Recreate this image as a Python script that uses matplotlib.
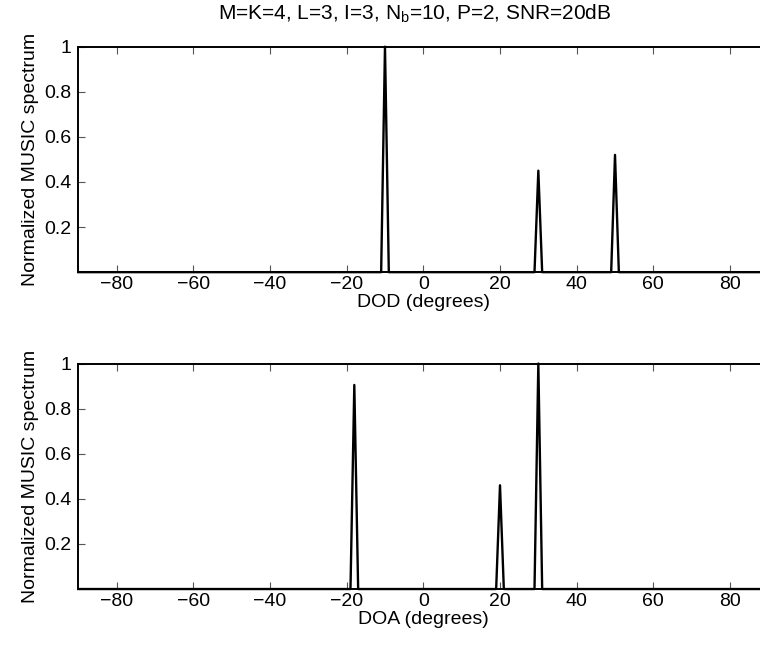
import matplotlib.pyplot as plt

plt.rcParams['font.family'] = ['Liberation Sans', 'DejaVu Sans']

# DOD spectrum samples (degrees, normalized value)
dod_angles = [-90, -11, -10, -9, 29, 30, 31, 49, 50, 51, 90]
dod_values = [0, 0, 1.0, 0, 0, 0.45, 0, 0, 0.52, 0, 0]

# DOA spectrum samples
doa_angles = [-90, -19, -18, -17, 19, 20, 21, 29, 30, 31, 90]
doa_values = [0, 0, 0.905, 0, 0, 0.46, 0, 0, 1.0, 0, 0]

xticks = [-80, -60, -40, -20, 0, 20, 40, 60, 80]
yticks = [0.2, 0.4, 0.6, 0.8, 1]
ytick_labels = ['0.2', '0.4', '0.6', '0.8', '1']

fig = plt.figure(figsize=(7.6, 6.48), dpi=100)
ax1 = fig.add_axes([0.103, 0.580, 0.908, 0.348])
ax2 = fig.add_axes([0.103, 0.091, 0.908, 0.348])

fs = 14
for ax, x, y, lab in [(ax1, dod_angles, dod_values, 'DOD (degrees)'),
                      (ax2, doa_angles, doa_values, 'DOA (degrees)')]:
    ax.plot(x, y, color='black', lw=1.7, clip_on=False)
    ax.set_xlim(-90, 90)
    ax.set_ylim(0, 1)
    ax.set_xticks(xticks)
    ax.set_xticklabels([str(t).replace('-', '\u2212') for t in xticks])
    ax.set_yticks(yticks)
    ax.set_yticklabels(ytick_labels)
    ax.tick_params(direction='in', length=5, width=0.8, color='#555555',
                   top=True, right=True, labelsize=fs)
    ax.tick_params(axis='x', pad=3)
    ax.tick_params(axis='y', pad=5)
    for s in ax.spines.values():
        s.set_linewidth(1.4)
    ax.set_xlabel(lab, fontsize=fs, labelpad=0.5)
    ax.set_ylabel('Normalized MUSIC spectrum', fontsize=fs, labelpad=4)

fig.text(0.546, 0.979, 'M=K=4, L=3, I=3, N$_\\mathregular{b}$=10, P=2, SNR=20dB',
         ha='center', va='center', fontsize=15)

fig.savefig('out.png', dpi=100)
